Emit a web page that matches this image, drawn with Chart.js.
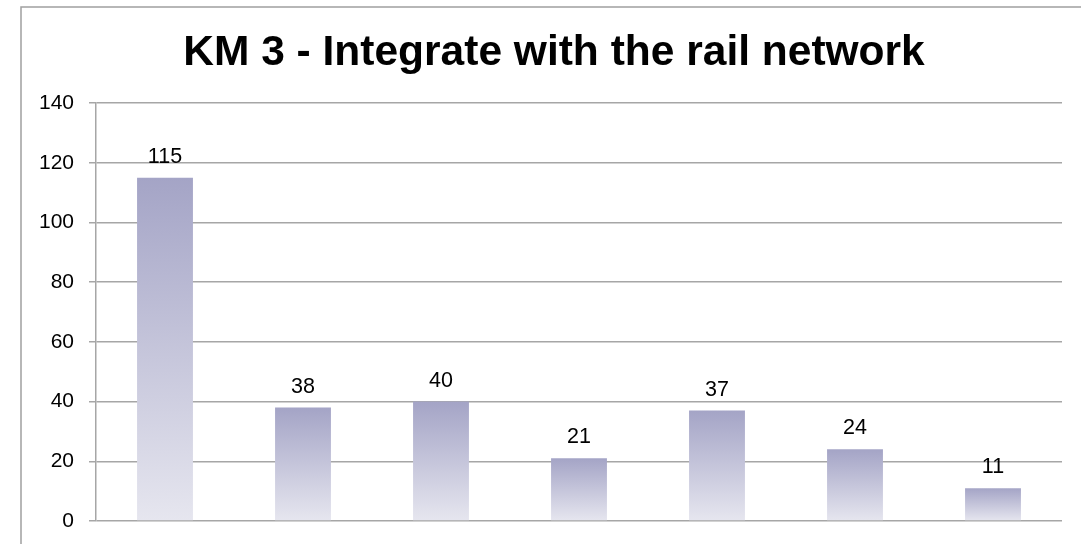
<!DOCTYPE html>
<html>
<head>
<meta charset="utf-8">
<script src="https://cdn.jsdelivr.net/npm/chart.js@4"></script>
<style>
html,body{margin:0;padding:0;background:#fff;}
#wrap{width:1081px;height:544px;position:relative;}
</style>
</head>
<body>
<div id="wrap"><canvas id="c" width="1081" height="544"></canvas></div>
<script>
const chartTitle = 'KM 3 - Integrate with the rail network';
const categories = ['1', '2', '3', '4', '5', '6', '7'];
const values = [115, 38, 40, 21, 37, 24, 11];
const yTicks = [0, 20, 40, 60, 80, 100, 120, 140];

const FONT = '"Liberation Sans", Arial, sans-serif';
const GRID = '#a6a6a6';

function barGradient(ctx) {
  const chart = ctx.chart;
  const ys = chart.scales && chart.scales.y;
  if (!ys || ctx.type !== 'data') return '#b5b5d0';
  const top = ys.getPixelForValue(ctx.parsed ? ctx.parsed.y : values[ctx.dataIndex]);
  const bot = ys.getPixelForValue(0);
  if (!isFinite(top) || !isFinite(bot) || top === bot) return '#b5b5d0';
  const g = chart.ctx.createLinearGradient(0, top, 0, bot);
  g.addColorStop(0, 'rgb(164,164,198)');
  g.addColorStop(1, 'rgb(230,230,239)');
  return g;
}

const framePlugin = {
  id: 'frame',
  beforeDraw(chart) {
    const c = chart.ctx;
    c.save();
    c.strokeStyle = '#a0a0a0';
    c.lineWidth = 1.5;
    c.beginPath();
    c.moveTo(21, 560);
    c.lineTo(21, 7);
    c.lineTo(1100, 7);
    c.stroke();
    c.fillStyle = '#000';
    c.font = 'bold 42.5px ' + FONT;
    c.textAlign = 'center';
    c.textBaseline = 'alphabetic';
    c.fillText(chartTitle, 554, 65);
    c.restore();
  },
  afterDatasetsDraw(chart) {
    const c = chart.ctx;
    const meta = chart.getDatasetMeta(0);
    c.save();
    c.fillStyle = '#000';
    c.font = '21.5px ' + FONT;
    c.textAlign = 'center';
    c.textBaseline = 'alphabetic';
    meta.data.forEach((bar, i) => {
      c.fillText(String(values[i]), bar.x, bar.y - 15);
    });
    c.restore();
  }
};

new Chart(document.getElementById('c'), {
  type: 'bar',
  data: {
    labels: categories,
    datasets: [{
      data: values,
      backgroundColor: barGradient,
      borderWidth: 0,
      categoryPercentage: 1,
      barPercentage: 0.405
    }]
  },
  options: {
    responsive: false,
    animation: false,
    layout: { autoPadding: false, padding: { top: 103, bottom: 23, right: 19, left: 0 } },
    plugins: { legend: { display: false }, tooltip: { enabled: false }, title: { display: false } },
    scales: {
      x: { display: false },
      y: {
        min: 0, max: 140,
        afterFit(scale) { scale.width = 96; scale.paddingTop = 0; scale.paddingBottom = 0; },
        afterBuildTicks(scale) { scale.ticks = yTicks.map(v => ({ value: v })); },
        border: { display: true, color: GRID, width: 1.5 },
        grid: { color: GRID, lineWidth: 1.5, tickLength: 7, drawTicks: true, tickColor: GRID },
        ticks: { color: '#000', font: { family: FONT, size: 21 }, padding: 15 }
      }
    }
  },
  plugins: [framePlugin]
});
</script>
</body>
</html>
